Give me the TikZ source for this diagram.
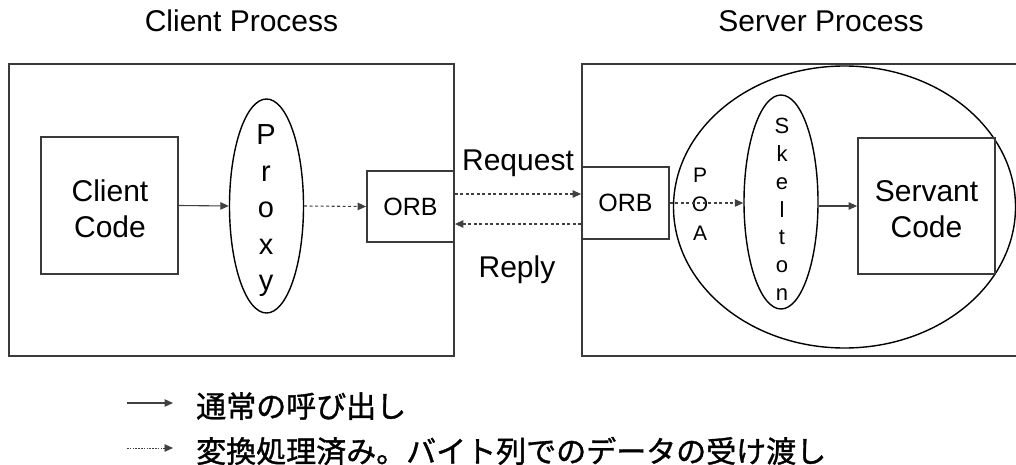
\documentclass[tikz,border=0pt]{standalone}
\usepackage{fontspec}
\setmainfont{Liberation Sans}
\newfontfamily\jpfont[FakeBold=1.2]{Noto Sans CJK JP}
\usetikzlibrary{arrows.meta,shapes.geometric}
\definecolor{frame}{HTML}{3A3A3A}
\definecolor{wire}{HTML}{404040}
\newcommand{\fsz}[2]{\fontsize{#1}{#2}\selectfont}

\begin{document}
\begin{tikzpicture}[x=1pt,y=-1pt,
  procline/.style={draw=frame,line width=2pt},
  procbox/.style={procline,rectangle,inner sep=0pt},
  codebox/.style={draw=frame,line width=1.8pt,rectangle,inner sep=0pt,align=center},
  oval/.style={draw=black,line width=1.4pt,ellipse,inner sep=0pt},
  stack/.style={align=center,inner sep=0pt},
  label/.style={font=\fsz{30}{36},inner sep=0pt},
  call/.style={draw=wire,line width=1.1pt,-{Triangle[length=8.5pt,width=7.5pt]}},
  data/.style={call,dash pattern=on 3pt off 2.5pt},
  legdata/.style={call,line width=0.9pt,dash pattern=on 1.6pt off 1.2pt}
]
\useasboundingbox (0,0) rectangle (1016,465);

% process titles
\node[label,anchor=base] (ctitle) at (241.5,32) {Client Process};
\node[label,anchor=base] (stitle) at (821,32) {Server Process};

% client process
\node[procbox,minimum width=445,minimum height=292] (client) at (231.5,210) {};
\node[codebox,minimum width=137,minimum height=137] (ccode) at (109.5,205.5) {};
\node[stack,font=\fsz{30}{36}] (cctext) at (110,209) {Client\\Code};
\node[oval,minimum width=74,minimum height=214] (proxy) at (266.5,206) {};
\node[stack,font=\fsz{29}{36.5}] (proxytext) at (266,211) {P\\r\\o\\x\\y};
\node[codebox,font=\fsz{25}{28},minimum width=87,minimum height=71] (corb) at (410.5,206.5) {ORB};

% server process (right side runs past the edge)
\draw[procline] (1016,64) -| (582,356) -- (1016,356);
\node[oval,minimum width=342,minimum height=282] (poa) at (844.5,207) {};
\node[stack,font=\fsz{21}{29}] (poatext) at (700,204.5) {P\\O\\A};
\node[codebox,font=\fsz{25}{28},minimum width=87,minimum height=72] (sorb) at (625.5,203) {ORB};
\node[oval,minimum width=74,minimum height=214] (skel) at (781,202) {};
\node[stack,font=\fsz{22}{27.8}] (skeltext) at (782,209.5) {S\\k\\e\\l\\t\\o\\n};
\node[codebox,minimum width=137,minimum height=136] (servant) at (926.5,206) {};
\node[stack,font=\fsz{30}{36}] (servtext) at (926.5,209) {Servant\\Code};

% request / reply between the ORBs
\node[label,anchor=base] (req) at (518,171) {Request};
\node[label,anchor=base] (rep) at (517,277) {Reply};
\coordinate (reqline) at (518,194);
\coordinate (repline) at (518,224);

% connectors
\draw[call] (ccode.east) -- (proxy.west);
\draw[data] (proxy.east) -- (corb.west);
\draw[data] (corb.east |- reqline) -- (sorb.west |- reqline);
\draw[data] (sorb.west |- repline) -- (corb.east |- repline);
\draw[data] (sorb.east) -- (sorb.east -| skel.west);
\draw[call] (servant.west -| skel.east) -- (servant.west);

% legend
\coordinate (l1s) at (127,403);
\coordinate (l1e) at (173,403);
\coordinate (l2s) at (127,448);
\coordinate (l2e) at (173,448);
\draw[call] (l1s) -- (l1e);
\draw[legdata] (l2s) -- (l2e);
\node[anchor=west,inner sep=0pt,font=\jpfont\fsz{30}{36}] (leg1) at (196,406) {通常の呼び出し};
\node[anchor=west,inner sep=0pt,font=\jpfont\fsz{30}{36}] (leg2) at (196,451) {変換処理済み。バイト列でのデータの受け渡し};
\end{tikzpicture}
\end{document}
